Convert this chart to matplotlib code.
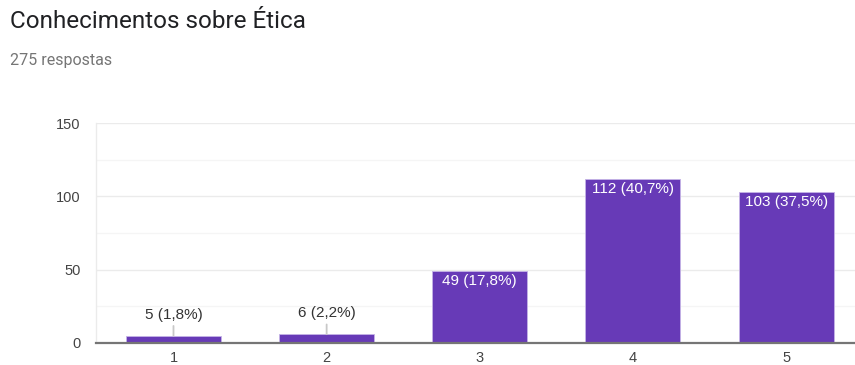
import matplotlib.pyplot as plt

# Dados do gráfico
categorias = ['1', '2', '3', '4', '5']
valores = [5, 6, 49, 112, 103]
rotulos = ['5 (1,8%)', '6 (2,2%)', '49 (17,8%)', '112 (40,7%)', '103 (37,5%)']
yticks = [0, 50, 100, 150]
titulo = 'Conhecimentos sobre Ética'
subtitulo = '275 respostas'

plt.rcParams['font.family'] = ['Roboto', 'DejaVu Sans']
fonte_grafico = ['Liberation Sans', 'DejaVu Sans']

fig = plt.figure(figsize=(8.55, 3.65), dpi=100)
ax = fig.add_axes([96 / 855, 22 / 365, 759 / 855, 220 / 365])

x = list(range(len(categorias)))
ax.bar(x, valores, width=0.62, color='#673ab7', edgecolor='#c5b3e6', linewidth=0.6, zorder=3)

ax.set_xlim(-0.506, 4.45)
ax.set_ylim(0, 150)
ax.set_yticks(yticks)
ax.set_yticks([25, 75, 125], minor=True)
ax.set_xticks(x)
ax.set_xticklabels(categorias)
ax.tick_params(axis='both', which='both', length=0, labelsize=10.5, labelcolor='#444444')
ax.tick_params(axis='y', pad=11)
ax.tick_params(axis='x', pad=6)
for lbl in ax.get_xticklabels() + ax.get_yticklabels():
    lbl.set_family(fonte_grafico)
ax.grid(axis='y', which='major', color='#ebebeb', linewidth=1, zorder=0)
ax.grid(axis='y', which='minor', color='#f5f5f5', linewidth=1, zorder=0)

for s in ['top', 'right']:
    ax.spines[s].set_visible(False)
ax.spines['left'].set_color('#ebebeb')
ax.spines['left'].set_linewidth(1)
ax.spines['bottom'].set_color('#757575')
ax.spines['bottom'].set_linewidth(1.6)
ax.spines['bottom'].set_zorder(4)

# rótulos das barras
for i, (v, r) in enumerate(zip(valores, rotulos)):
    if v > 20:
        ax.annotate(r, (i, v), xytext=(0, -2), textcoords='offset points',
                    ha='center', va='top', color='white', fontsize=11,
                    family=fonte_grafico, zorder=5)
    else:
        ax.annotate(r, (i, v), xytext=(0, 10), textcoords='offset points',
                    ha='center', va='bottom', color='#333333', fontsize=11,
                    family=fonte_grafico, zorder=5,
                    arrowprops=dict(arrowstyle='-', color='#c8c8c8', lw=1.3,
                                    shrinkA=1, shrinkB=0))

fig.text(10 / 855, 1 - 22 / 365, titulo, fontsize=17.5, color='#202124', va='center', ha='left')
fig.text(10 / 855, 1 - 61 / 365, subtitulo, fontsize=11.5, color='#757575', va='center', ha='left')

plt.savefig('out.png', dpi=100)
